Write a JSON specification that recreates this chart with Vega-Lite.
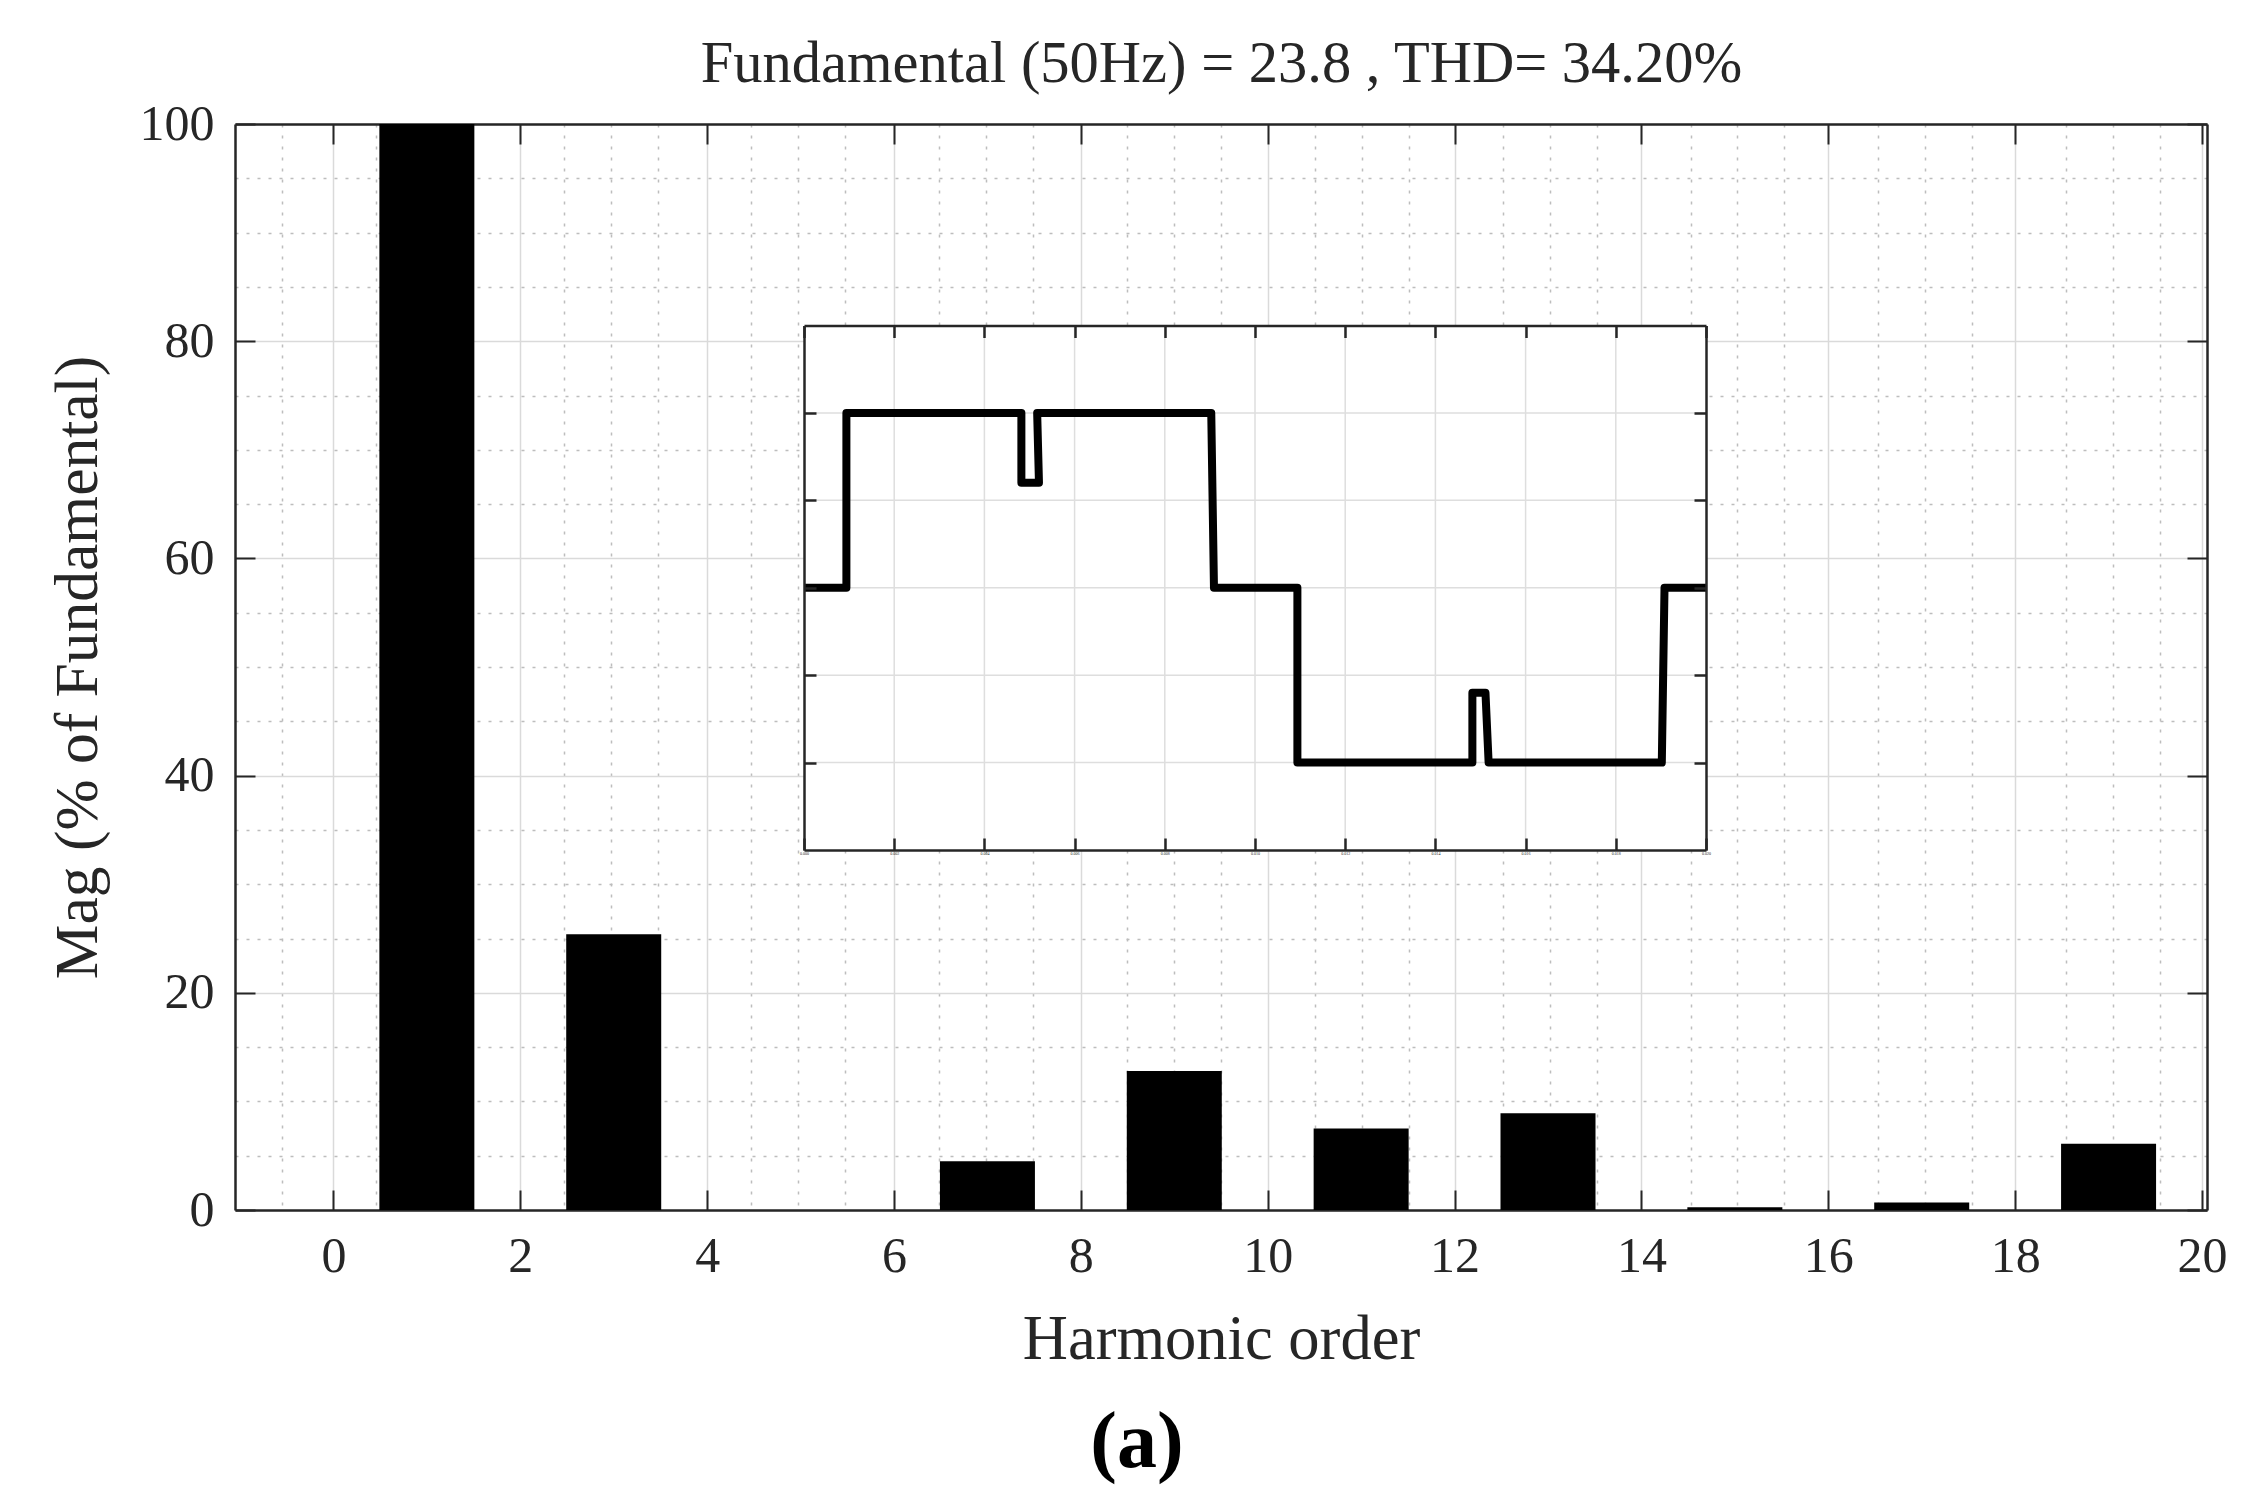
{
  "$schema": "https://vega.github.io/schema/vega-lite/v6.json",
  "width": 1972,
  "height": 1086,
  "autosize": {"type": "none"},
  "padding": {"left": 235, "top": 124, "right": 59, "bottom": 300},
  "background": "white",
  "title": {"text": "(a)", "orient": "bottom", "anchor": "middle", "dx": -84, "font": "Liberation Serif", "fontSize": 80, "fontWeight": "bold", "color": "#000000", "offset": 33},
  "config": {
    "view": {"stroke": null},
    "axis": {
      "labelFont": "Liberation Serif",
      "titleFont": "Liberation Serif",
      "labelColor": "#262626",
      "titleColor": "#262626",
      "titleFontWeight": "normal",
      "domainColor": "#262626",
      "tickColor": "#262626"
    }
  },
  "datasets": {
    "harm": [
      {"h": 0, "mag": 0}, {"h": 1, "mag": 100}, {"h": 2, "mag": 0}, {"h": 3, "mag": 25.4},
      {"h": 4, "mag": 0}, {"h": 5, "mag": 0}, {"h": 6, "mag": 0}, {"h": 7, "mag": 4.5},
      {"h": 8, "mag": 0}, {"h": 9, "mag": 12.8}, {"h": 10, "mag": 0}, {"h": 11, "mag": 7.5},
      {"h": 12, "mag": 0}, {"h": 13, "mag": 8.9}, {"h": 14, "mag": 0}, {"h": 15, "mag": 0.25},
      {"h": 16, "mag": 0}, {"h": 17, "mag": 0.7}, {"h": 18, "mag": 0}, {"h": 19, "mag": 6.1}
    ],
    "wave": [
      {"i": 0, "t": 0, "v": 0},
      {"i": 1, "t": 0.00094, "v": 0},
      {"i": 2, "t": 0.00094, "v": 2},
      {"i": 3, "t": 0.00482, "v": 2},
      {"i": 4, "t": 0.00482, "v": 1.2},
      {"i": 5, "t": 0.00521, "v": 1.2},
      {"i": 6, "t": 0.00517, "v": 2},
      {"i": 7, "t": 0.00903, "v": 2},
      {"i": 8, "t": 0.00909, "v": 0},
      {"i": 9, "t": 0.01094, "v": 0},
      {"i": 10, "t": 0.01094, "v": -2},
      {"i": 11, "t": 0.01482, "v": -2},
      {"i": 12, "t": 0.01482, "v": -1.2},
      {"i": 13, "t": 0.01511, "v": -1.2},
      {"i": 14, "t": 0.01518, "v": -2},
      {"i": 15, "t": 0.01902, "v": -2},
      {"i": 16, "t": 0.01908, "v": 0},
      {"i": 17, "t": 0.02, "v": 0}
    ],
    "tgrid": [
      {"t": 0.002}, {"t": 0.004}, {"t": 0.006}, {"t": 0.008}, {"t": 0.010},
      {"t": 0.012}, {"t": 0.014}, {"t": 0.016}, {"t": 0.018}
    ],
    "vgrid": [{"v": -2}, {"v": -1}, {"v": 0}, {"v": 1}, {"v": 2}]
  },
  "layer": [
    {
      "data": {"name": "harm"},
      "mark": {"type": "point", "opacity": 0},
      "encoding": {
        "x": {
          "field": "h", "type": "quantitative",
          "scale": {"domain": [-1, 20], "nice": false, "zero": false},
          "axis": {
            "orient": "bottom", "grid": true, "labels": false, "ticks": false, "domain": false, "title": null,
            "gridColor": "#bdbdbd", "gridWidth": 1.5, "gridDash": [3, 8],
            "values": [-0.5, 0.5, 1, 1.5, 2.5, 3, 3.5, 4.5, 5, 5.5, 6.5, 7, 7.5, 8.5, 9, 9.5, 10.5, 11, 11.5, 12.5, 13, 13.5, 14.5, 15, 15.5, 16.5, 17, 17.5, 18.5, 19, 19.5]
          }
        },
        "y": {
          "field": "mag", "type": "quantitative",
          "scale": {"domain": [0, 100], "nice": false},
          "axis": {
            "orient": "left", "grid": true, "labels": false, "ticks": false, "domain": false, "title": null,
            "gridColor": "#bdbdbd", "gridWidth": 1.5, "gridDash": [3, 8],
            "values": [5, 10, 15, 25, 30, 35, 45, 50, 55, 65, 70, 75, 85, 90, 95]
          }
        }
      }
    },
    {
      "data": {"name": "harm"},
      "layer": [
        {
          "mark": {"type": "bar", "color": "#000000", "width": 95},
          "encoding": {
            "x": {
              "field": "h", "type": "quantitative",
              "scale": {"domain": [-1, 20], "nice": false, "zero": false},
              "axis": {
                "orient": "bottom", "values": [0, 2, 4, 6, 8, 10, 12, 14, 16, 18, 20],
                "grid": true, "gridColor": "#dadada", "gridWidth": 1.5,
                "tickSize": -20, "tickWidth": 2, "domainWidth": 2.5,
                "labelFontSize": 50, "labelPadding": 41, "labelFlush": false,
                "title": "Harmonic order", "titleFontSize": 62.5, "titlePadding": 28
              }
            },
            "y": {
              "field": "mag", "type": "quantitative",
              "scale": {"domain": [0, 100], "nice": false},
              "axis": {
                "orient": "left", "values": [0, 20, 40, 60, 80, 100],
                "grid": true, "gridColor": "#dadada", "gridWidth": 1.5,
                "tickSize": -20, "tickWidth": 2, "domainWidth": 2.5,
                "labelFontSize": 50, "labelPadding": 41, "labelFlush": false,
                "title": "Mag (% of Fundamental)", "titleFontSize": 61.5, "titlePadding": 30
              }
            }
          }
        },
        {
          "mark": {"type": "point", "opacity": 0},
          "encoding": {
            "x": {
              "field": "h", "type": "quantitative",
              "axis": {
                "orient": "top", "values": [0, 2, 4, 6, 8, 10, 12, 14, 16, 18, 20],
                "grid": false, "labels": false,
                "tickSize": -20, "tickWidth": 2, "domainWidth": 2.5,
                "title": "Fundamental (50Hz) = 23.8 , THD= 34.20%", "titleFontSize": 58.5, "titlePadding": 30
              }
            },
            "y": {
              "field": "mag", "type": "quantitative",
              "axis": {
                "orient": "right", "values": [0, 20, 40, 60, 80, 100],
                "grid": false, "labels": false,
                "tickSize": -20, "tickWidth": 2, "domainWidth": 2.5,
                "title": null
              }
            }
          }
        }
      ]
    },
    {
      "layer": [
        {
          "data": {"values": [{}]},
          "mark": {"type": "rect", "color": "#ffffff"},
          "encoding": {
            "x": {"datum": 0, "type": "quantitative", "axis": null},
            "x2": {"datum": 0.02},
            "y": {"datum": -3, "type": "quantitative", "axis": null},
            "y2": {"datum": 3}
          }
        },
        {
          "data": {"name": "tgrid"},
          "mark": {"type": "rule", "color": "#dedede", "strokeWidth": 1.5},
          "encoding": {
            "x": {"field": "t", "type": "quantitative", "axis": null},
            "y": {"datum": -3, "type": "quantitative", "axis": null},
            "y2": {"datum": 3}
          }
        },
        {
          "data": {"name": "vgrid"},
          "mark": {"type": "rule", "color": "#dedede", "strokeWidth": 1.5},
          "encoding": {
            "y": {"field": "v", "type": "quantitative", "axis": null},
            "x": {"datum": 0, "type": "quantitative", "axis": null},
            "x2": {"datum": 0.02}
          }
        },
        {
          "data": {"name": "wave"},
          "mark": {"type": "line", "color": "#000000", "strokeWidth": 8, "strokeJoin": "round", "strokeCap": "butt"},
          "encoding": {
            "x": {
              "field": "t", "type": "quantitative",
              "scale": {"domain": [0, 0.02], "range": [569, 1471], "nice": false, "zero": false},
              "axis": {
                "orient": "bottom", "offset": -360, "zindex": 1,
                "values": [0, 0.002, 0.004, 0.006, 0.008, 0.01, 0.012, 0.014, 0.016, 0.018, 0.02],
                "grid": false, "tickSize": -12, "tickWidth": 2.5, "domainWidth": 2.5,
                "labelFontSize": 4, "labelPadding": 13, "format": ".3f", "labelFlush": false, "title": null
              }
            },
            "y": {
              "field": "v", "type": "quantitative",
              "scale": {"domain": [-3, 3], "range": [726, 201.5], "nice": false, "zero": false},
              "axis": {
                "orient": "left", "offset": -569, "zindex": 1,
                "values": [-2, -1, 0, 1, 2],
                "grid": false, "labels": false, "tickSize": -12, "tickWidth": 2.5, "domainWidth": 2.5, "title": null
              }
            },
            "order": {"field": "i", "type": "quantitative"}
          }
        },
        {
          "data": {"name": "wave"},
          "mark": {"type": "point", "opacity": 0},
          "encoding": {
            "x": {
              "field": "t", "type": "quantitative",
              "axis": {
                "orient": "top", "offset": -201.5, "zindex": 1,
                "values": [0, 0.002, 0.004, 0.006, 0.008, 0.01, 0.012, 0.014, 0.016, 0.018, 0.02],
                "grid": false, "labels": false, "tickSize": -12, "tickWidth": 2.5, "domainWidth": 2.5, "title": null
              }
            },
            "y": {
              "field": "v", "type": "quantitative",
              "axis": {
                "orient": "right", "offset": -501, "zindex": 1,
                "values": [-2, -1, 0, 1, 2],
                "grid": false, "labels": false, "tickSize": -12, "tickWidth": 2.5, "domainWidth": 2.5, "title": null
              }
            }
          }
        }
      ]
    }
  ],
  "resolve": {"scale": {"x": "independent", "y": "independent"}}
}
